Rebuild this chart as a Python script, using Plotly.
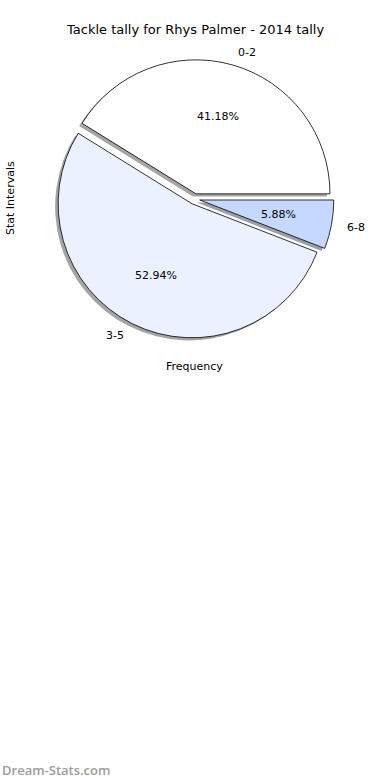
import numpy as np
import plotly.graph_objects as go

# ---- data ----
labels = ["0-2", "3-5", "6-8"]
counts = [7, 9, 1]
slice_colors = ["#FFFFFF", "#EBF1FF", "#C6D8FF"]
shadow_colors = ["#A6A6A6", "#A3A4A6", "#9B9FA6"]
pulls = [0.04, 0.04, 0.04]
title_text = "Tackle tally for Rhys Palmer - 2014 tally"
x_label = "Frequency"
y_label = "Stat Intervals"
watermark = "Dream-Stats.com"

# ---- layout geometry (pixels) ----
W, H = 390, 780
cx, cy = 194.5, 199.0      # pie centre
R = 134.0                  # pie radius
max_pull = max(pulls)
half = R * (1 + max_pull)  # half domain size so plotly radius == R
shx, shy = -3.0, 2.6       # shadow offset (px, y down)


def px2paper(x, y):
    return x / W, 1 - y / H


def dom(ox=0.0, oy=0.0):
    x0, y1 = px2paper(cx - half + ox, cy - half + oy)
    x1, y0 = px2paper(cx + half + ox, cy + half + oy)
    return dict(x=[x0, x1], y=[y0, y1])


vals = np.array(counts, dtype=float)
frac = vals / vals.sum()
# plotly (counterclockwise) ends the first slice at `rotation`; start it at 3 o'clock
rot = 90 - frac[0] * 360

fig = go.Figure()
# shadow
fig.add_trace(go.Pie(
    labels=labels, values=counts, sort=False, direction="counterclockwise",
    rotation=rot, pull=pulls, textinfo="none", hoverinfo="skip",
    marker=dict(colors=shadow_colors, line=dict(width=0)),
    domain=dom(shx, shy), showlegend=False,
))
# main pie
fig.add_trace(go.Pie(
    labels=labels, values=counts, sort=False, direction="counterclockwise",
    rotation=rot, pull=pulls, textinfo="none",
    marker=dict(colors=slice_colors, line=dict(color="#000000", width=0.8)),
    domain=dom(), showlegend=False,
))

# text positions computed from the data (matplotlib-style pie labels)
starts = np.concatenate([[0], np.cumsum(frac)[:-1]]) * 360
mids = np.deg2rad(starts + frac * 180)

annotations = []
font = "DejaVu Sans, Liberation Sans, sans-serif"
for lab, f, a, p in zip(labels, frac, mids, pulls):
    ex = cx + p * R * np.cos(a)
    ey = cy - p * R * np.sin(a)
    px_, py_ = px2paper(ex + 0.6 * R * np.cos(a), ey - 0.6 * R * np.sin(a))
    annotations.append(dict(x=px_, y=py_, xref="paper", yref="paper",
                            text=f"{f*100:.2f}%", showarrow=False,
                            xanchor="center", yanchor="middle",
                            font=dict(size=11, color="#000", family=font)))
    lx, ly = px2paper(ex + 1.1 * R * np.cos(a), ey - 1.1 * R * np.sin(a))
    annotations.append(dict(x=lx, y=ly, xref="paper", yref="paper",
                            text=lab, showarrow=False,
                            xanchor="left" if np.cos(a) > 0 else "right",
                            yanchor="middle",
                            font=dict(size=11, color="#000", family=font)))

tx, ty = px2paper(195, 30)
annotations.append(dict(x=tx, y=ty, xref="paper", yref="paper", text=title_text,
                        showarrow=False, xanchor="center", yanchor="middle",
                        font=dict(size=13, color="#000", family=font)))
fx, fy = px2paper(194, 366)
annotations.append(dict(x=fx, y=fy, xref="paper", yref="paper", text=x_label,
                        showarrow=False, xanchor="center", yanchor="middle",
                        font=dict(size=11, color="#000", family=font)))
yx, yy = px2paper(10, 198)
annotations.append(dict(x=yx, y=yy, xref="paper", yref="paper", text=y_label,
                        showarrow=False, xanchor="center", yanchor="middle",
                        textangle=-90,
                        font=dict(size=11, color="#000", family=font)))
wx, wy = px2paper(0, 770)
annotations.append(dict(x=wx, y=wy, xref="paper", yref="paper", text=watermark,
                        showarrow=False, xanchor="left", yanchor="middle",
                        font=dict(size=13, color="#9c9c9c", weight=600,
                                  family="Open Sans, DejaVu Sans, sans-serif")))

fig.update_layout(
    width=W, height=H,
    margin=dict(l=0, r=0, t=0, b=0),
    paper_bgcolor="white", plot_bgcolor="white",
    annotations=annotations,
)
fig.write_html("out.html", config={"displayModeBar": False},
               post_script="document.body.style.margin='0px';")
